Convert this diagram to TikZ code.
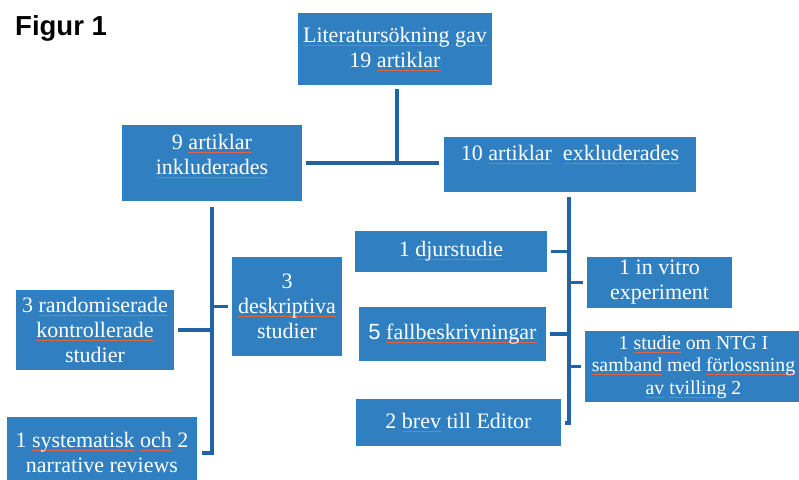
\documentclass[tikz,border=0pt]{standalone}
\usepackage{fontspec}
\setmainfont{Liberation Serif}
\newfontfamily\figfont{Liberation Sans}
\definecolor{boxblue}{RGB}{48,127,192}
\definecolor{lineblue}{RGB}{34,100,163}
\definecolor{spell}{RGB}{222,100,70}
\newsavebox\splbox
\newcommand\spl[1]{\leavevmode\sbox\splbox{#1}\rlap{\textcolor{spell}{\rule[-3.6pt]{\wd\splbox}{1.2pt}}}\usebox\splbox}
\begin{document}
\begin{tikzpicture}[x=1pt,y=-1pt,
  box/.style={fill=boxblue, draw=none, inner sep=0pt, text=white, align=center, font=\fontsize{22}{25}\selectfont},
  txt/.style={inner sep=0pt, text=white, align=center, font=\fontsize{22}{25}\selectfont},
  conn/.style={draw=lineblue, line width=3.2pt}]
\useasboundingbox (0,0) rectangle (799,479);
\fill[white] (0,0) rectangle (799,479);
\begin{scope}
\clip (0,0) rectangle (799,479);
\node[anchor=base west, inner sep=0pt, font=\figfont\bfseries\fontsize{27.5}{30}\selectfont] (fig) at (15,35) {Figur 1};

\node[box, minimum width=194pt, minimum height=72pt] (b1) at (395,49) {\spl{Literatursökning} \spl{gav}\\19 \spl{artiklar}};
\node[box, minimum width=180pt, minimum height=76pt] (b2) at (212,163) {};
\node[txt] (t2) at (212,156) {9 \spl{artiklar}\\\spl{inkluderades}};
\node[box, minimum width=252pt, minimum height=55pt] (b3) at (570,164.5) {};
\node[txt] (t3) at (570,155) {10 \spl{artiklar}\ \ \spl{exkluderades}};
\node[box, minimum width=158pt, minimum height=80pt] (b4) at (95,330) {3 \spl{randomiserade}\\\spl{kontrollerade}\\studier};
\node[box, minimum width=110pt, minimum height=99pt] (b5) at (287,306.5) {3\\\spl{deskriptiva}\\studier};
\node[box, minimum width=190pt, minimum height=71pt] (b6) at (102,452.5) {1 \spl{systematisk} \spl{och} 2\\narrative reviews};
\node[box, minimum width=192pt, minimum height=41pt] (b7) at (451,251.5) {1 \spl{djurstudie}};
\node[box, minimum width=145pt, minimum height=51pt] (b8) at (659.5,282.5) {1 in vitro\\experiment};
\node[box, minimum width=187pt, minimum height=54pt] (b9) at (452.5,334) {{\figfont 5} \spl{fallbeskrivningar}};
\node[box, minimum width=228pt, minimum height=71pt] (b10) at (699,366.5) {};
\node[txt, font=\fontsize{19.8}{22.5}\selectfont] (t10) at (693.5,367) {1 \spl{studie} om NTG I\\\spl{samband} med \spl{förlossning}\\\spl{av} \spl{tvilling} 2};
\node[box, minimum width=205pt, minimum height=47pt] (b11) at (458.5,422.5) {2 \spl{brev} till Editor};

% top connectors
\coordinate (j1) at (397,163);
\draw[conn] ([yshift=-4pt]b1.south -| j1) -- (j1);
\draw[conn] ([xshift=4pt]b2.east) -- ([xshift=-5pt]b2.east -| b3.west);

% left tree
\coordinate (lt) at (212,207);
\coordinate (lb) at (212,453);
\draw[conn] (lt) -- (lb) -- ([xshift=5pt]b6.east |- lb);
\draw[conn] ([xshift=4pt]b4.east) -- (b4.east -| lt);
\draw[conn] (b5.west -| lt) -- ([xshift=-4pt]b5.west);

% right tree
\coordinate (rt) at (569,197);
\coordinate (rb) at (569,423);
\draw[conn] (rt) -- (rb) -- ([xshift=4pt]b11.east |- rb);
\draw[conn] ([xshift=4pt]b7.east) -- (b7.east -| rt);
\draw[conn] (b8.west -| rt) -- ([xshift=-4pt]b8.west);
\draw[conn] ([xshift=4pt]b9.east) -- (b9.east -| rt);
\draw[conn] (b10.west -| rt) -- ([xshift=-4pt]b10.west);
\end{scope}
\end{tikzpicture}
\end{document}
